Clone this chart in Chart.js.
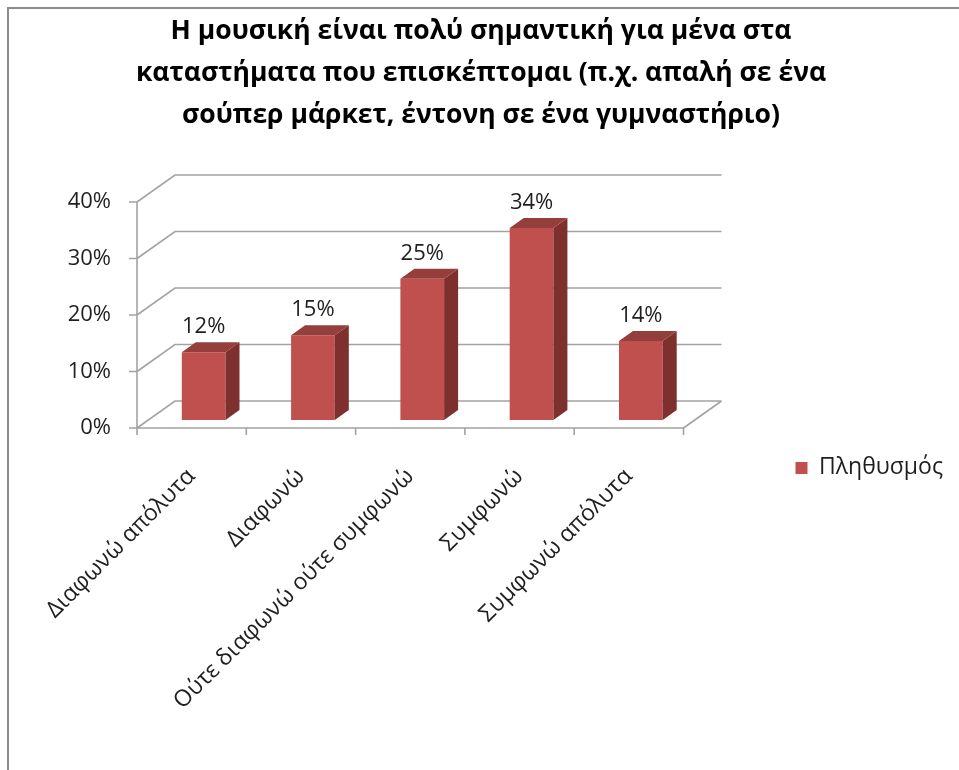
<!DOCTYPE html>
<html>
<head>
<meta charset="utf-8">
<script src="https://cdn.jsdelivr.net/npm/chart.js@4.4.1/dist/chart.umd.min.js"></script>
<style>
  body { margin: 0; background: #fff; }
  #wrap { position: relative; width: 959px; height: 770px; overflow: hidden; }
  #frame {
    position: absolute; left: 7px; top: 7px; width: 980px; height: 800px;
    border-left: 2px solid #8c8c8c; border-top: 2px solid #8c8c8c;
  }
  #chart { position: absolute; left: 0; top: 0; }
</style>
</head>
<body>
<div id="wrap">
  <div id="frame"></div>
  <canvas id="chart" width="959" height="770"></canvas>
</div>
<script>
// survey answers, share of respondents in %
const titleLines = [
    'Η μουσική είναι πολύ σημαντική για μένα στα',
    'καταστήματα που επισκέπτομαι (π.χ. απαλή σε ένα',
    'σούπερ μάρκετ, έντονη σε ένα γυμναστήριο)',
];
const categories = [
    'Διαφωνώ απόλυτα',
    'Διαφωνώ',
    'Ούτε διαφωνώ ούτε συμφωνώ',
    'Συμφωνώ',
    'Συμφωνώ απόλυτα',
];
const seriesName = 'Πληθυσμός';
const values = [12, 15, 25, 34, 14];
const yTicks = [0, 10, 20, 30, 40];

const FONT = "'Open Sans', 'Noto Sans', sans-serif";
const TEXT = '#1f1f1f';
const GRID = '#a3a3a3';

// depth of the back wall, of the bars' position inside the box, and of the bar itself
const WALL = { dx: 38, dy: -27 };
const BAR_SHIFT = { dx: 12, dy: -8 };
const BAR_DEPTH = { dx: 14, dy: -10 };

const barFront = '#c0504d';
const barSide = '#7d302e';
const barTop = '#953f3c';

const PAD_L = 9;
const PAD_R = 6;

const box3d = {
    id: 'box3d',
    beforeDatasetsDraw(chart) {
        const { ctx, chartArea: a, scales } = chart;
        const y = scales.y;
        const x = scales.x;
        ctx.save();
        ctx.strokeStyle = GRID;
        ctx.lineWidth = 1.6;
        ctx.beginPath();
        yTicks.forEach(t => {
            const py = y.getPixelForValue(t);
            // wall line + diagonal to the front axis
            ctx.moveTo(a.left, py);
            ctx.lineTo(a.left + WALL.dx, py + WALL.dy);
            ctx.lineTo(a.right + WALL.dx, py + WALL.dy);
            // y tick mark
            ctx.moveTo(a.left - 8, py);
            ctx.lineTo(a.left, py);
        });
        // floor right edge
        ctx.moveTo(a.right, a.bottom);
        ctx.lineTo(a.right + WALL.dx, a.bottom + WALL.dy);
        // front axes
        ctx.moveTo(a.left, a.top);
        ctx.lineTo(a.left, a.bottom);
        ctx.lineTo(a.right, a.bottom);
        // x tick marks between categories
        const step = x.getPixelForValue(1) - x.getPixelForValue(0);
        for (let i = 0; i <= categories.length; i++) {
            const px = x.getPixelForValue(0) - step / 2 + i * step;
            ctx.moveTo(px, a.bottom);
            ctx.lineTo(px, a.bottom + 7);
        }
        ctx.stroke();
        ctx.restore();

        ctx.save();
        ctx.translate(BAR_SHIFT.dx, BAR_SHIFT.dy);
    },
    afterDatasetsDraw(chart) {
        const { ctx } = chart;
        chart.getDatasetMeta(0).data.forEach((bar, i) => {
            const { x, y, base, width } = bar.getProps(['x', 'y', 'base', 'width']);
            const l = x - width / 2;
            const r = x + width / 2;
            ctx.fillStyle = barSide;
            ctx.beginPath();
            ctx.moveTo(r, y);
            ctx.lineTo(r + BAR_DEPTH.dx, y + BAR_DEPTH.dy);
            ctx.lineTo(r + BAR_DEPTH.dx, base + BAR_DEPTH.dy);
            ctx.lineTo(r, base);
            ctx.closePath();
            ctx.fill();
            ctx.fillStyle = barTop;
            ctx.beginPath();
            ctx.moveTo(l, y);
            ctx.lineTo(l + BAR_DEPTH.dx, y + BAR_DEPTH.dy);
            ctx.lineTo(r + BAR_DEPTH.dx, y + BAR_DEPTH.dy);
            ctx.lineTo(r, y);
            ctx.closePath();
            ctx.fill();

            ctx.fillStyle = TEXT;
            ctx.font = `22px ${FONT}`;
            ctx.textAlign = 'center';
            ctx.textBaseline = 'alphabetic';
            ctx.fillText(values[i] + '%', x, y - 19);
        });
        ctx.restore();
    },
};

new Chart(document.getElementById('chart'), {
    type: 'bar',
    data: {
        labels: categories,
        datasets: [{
            label: seriesName,
            data: values,
            backgroundColor: barFront,
            borderWidth: 0,
            barPercentage: 0.4,
            categoryPercentage: 1,
            clip: false,
        }],
    },
    options: {
        responsive: false,
        animation: false,
        devicePixelRatio: 1,
        layout: { padding: { left: PAD_L, right: PAD_R, top: 0, bottom: 0 } },
        plugins: {
            title: {
                display: true,
                text: titleLines,
                color: '#000',
                font: { family: FONT, size: 26.5, weight: 'bold', lineHeight: 1.585 },
                padding: { top: 10, bottom: 66 },
            },
            legend: {
                position: 'right',
                align: 'start',
                maxWidth: 300,
                // empty title only pushes the single entry down
                title: { display: true, text: '', padding: { top: 330, bottom: 0 } },
                labels: {
                    boxWidth: 12,
                    boxHeight: 12,
                    padding: 112,
                    color: TEXT,
                    font: { family: FONT, size: 23 },
                },
            },
            tooltip: { enabled: false },
        },
        scales: {
            x: {
                grid: { display: false, drawTicks: false },
                border: { display: false },
                ticks: {
                    autoSkip: false,
                    minRotation: 45,
                    maxRotation: 45,
                    padding: 35,
                    color: TEXT,
                    font: { family: FONT, size: 23 },
                },
                afterFit(scale) { scale.height = 770 - 428; },
            },
            y: {
                min: 0,
                max: 40,
                grid: { display: false, drawTicks: false },
                border: { display: false },
                ticks: {
                    stepSize: 10,
                    padding: 26,
                    color: TEXT,
                    font: { family: FONT, size: 22 },
                    callback: v => v + '%',
                },
                afterFit(scale) { scale.width = 137 - PAD_L; },
            },
        },
    },
    plugins: [box3d],
});
</script>
</body>
</html>
